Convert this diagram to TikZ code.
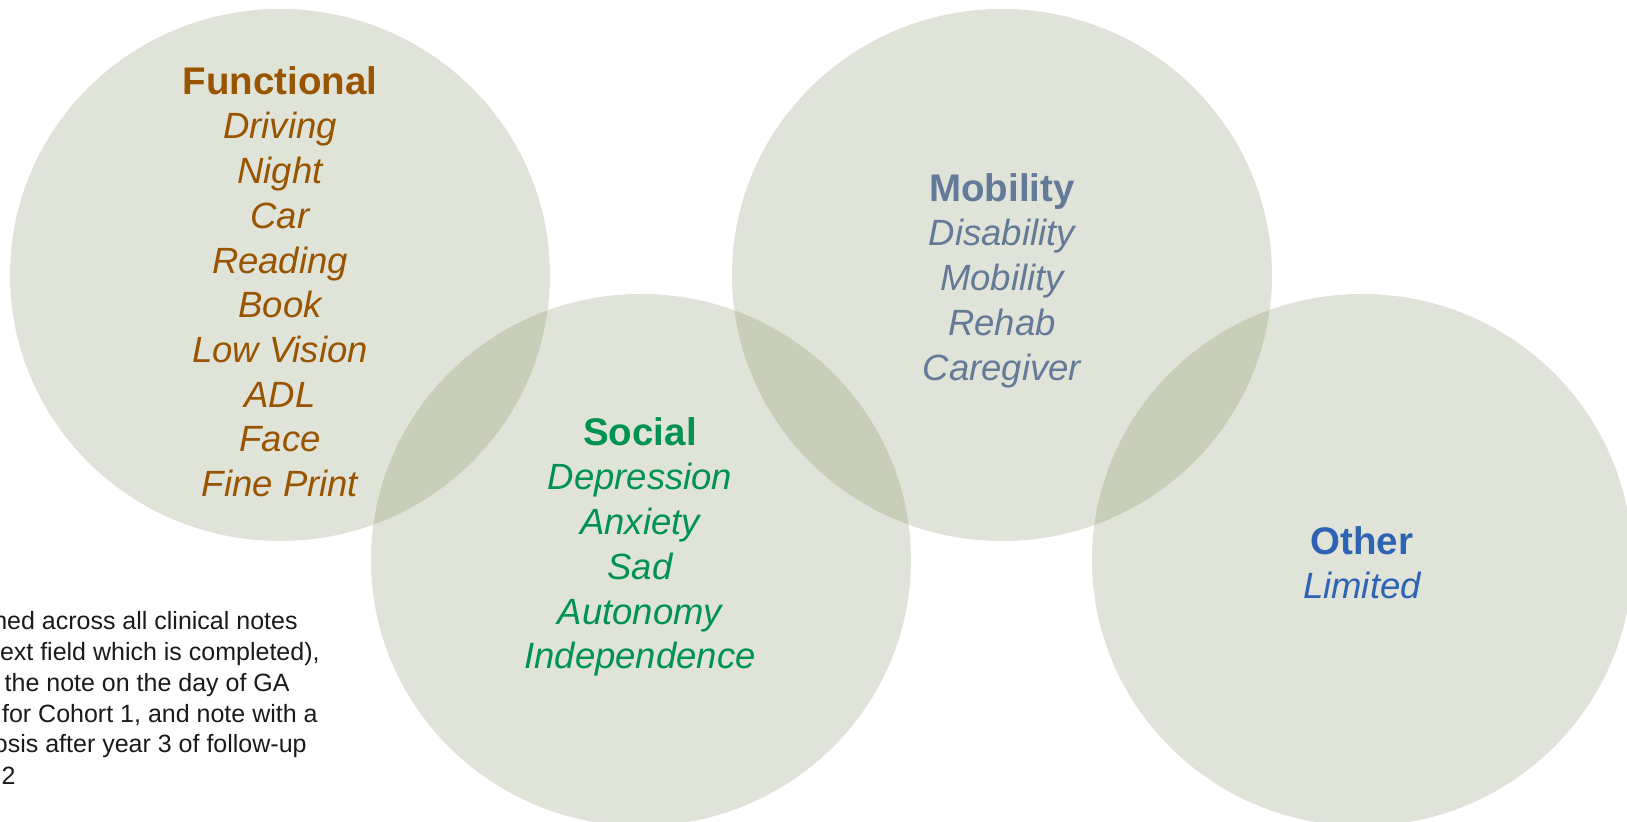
\documentclass[tikz,border=0pt]{standalone}
\usepackage{fontspec}
\setmainfont{Liberation Sans}
\usetikzlibrary{positioning,shapes.geometric}

\definecolor{bubblefill}{RGB}{131,143,99}
\definecolor{funccol}{RGB}{153,84,0}
\definecolor{socialcol}{RGB}{0,146,80}
\definecolor{mobcol}{RGB}{99,122,153}
\definecolor{othercol}{RGB}{46,99,180}
\definecolor{notecol}{RGB}{26,26,26}

\begin{document}
\begin{tikzpicture}[x=0.5pt, y=-0.5pt,
  bubble/.style={ellipse, draw=none, fill=bubblefill, fill opacity=0.25, minimum width=270pt, minimum height=266pt, inner sep=0pt},
  topic/.style={anchor=north, inner sep=0pt, align=center, font=\fontsize{18.25}{22.35}\selectfont\itshape},
  note/.style={anchor=base east, inner sep=0pt, text=notecol, font=\fontsize{12.5}{15.5}\selectfont}]
  \useasboundingbox (0,0) rectangle (1627,822);

  % the four overlapping bubbles
  \node[bubble] (funcbub) at (280,275) {};
  \node[bubble] (socbub)  at (641,560) {};
  \node[bubble] (mobbub)  at (1002,275) {};
  \node[bubble] (othbub)  at (1362,560) {};

  % word lists
  \node[topic, text=funccol] (functxt) at (280,66)
    {{\upshape\bfseries\fontsize{19.25}{22.35}\selectfont Functional}\\
     Driving\\ Night\\ Car\\ Reading\\ Book\\ Low Vision\\ ADL\\ Face\\ Fine Print};
  \node[topic, text=socialcol] (soctxt) at (640,417)
    {{\upshape\bfseries\fontsize{19.25}{22.35}\selectfont Social}\\
     Depression\\ Anxiety\\ Sad\\ Autonomy\\ Independence};
  \node[topic, text=mobcol] (mobtxt) at (1002,173)
    {{\upshape\bfseries\fontsize{19.25}{22.35}\selectfont Mobility}\\
     Disability\\ Mobility\\ Rehab\\ Caregiver};
  \node[topic, text=othercol] (othtxt) at (1362,526)
    {{\upshape\bfseries\fontsize{19.25}{22.35}\selectfont Other}\\
     Limited};

  % footnote, cut off at the left
  \node[note] (note1) at (298,630) {hed across all clinical notes};
  \node[note] (note2) at (320,661) {ext field which is completed),};
  \node[note] (note3) at (290,692) {the note on the day of GA};
  \node[note] (note4) at (318,723) {for Cohort 1, and note with a};
  \node[note] (note5) at (307,753) {osis after year 3 of follow-up};
  \node[note] (note6) at (16,784) {2};
\end{tikzpicture}
\end{document}
